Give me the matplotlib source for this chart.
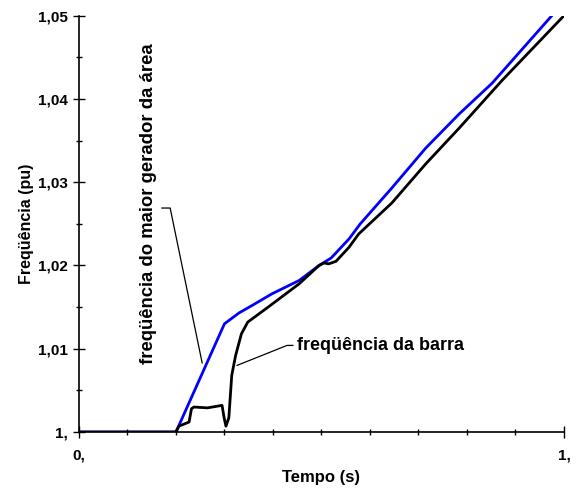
import matplotlib
matplotlib.use('Agg')
import matplotlib.pyplot as plt
from matplotlib.ticker import MultipleLocator

plt.rcParams['font.family'] = ['Liberation Sans', 'DejaVu Sans']
plt.rcParams['font.weight'] = 'bold'
plt.rcParams['font.size'] = 11

# blue: frequencia do maior gerador da area
gen_t = [0, 0.2, 0.30, 0.33, 0.357, 0.398, 0.454, 0.495, 0.52, 0.557, 0.58,
         0.645, 0.715, 0.784, 0.852, 0.975]
gen_f = [1.0, 1.0, 1.0130, 1.0143, 1.0152, 1.0166, 1.0182, 1.0200, 1.0209, 1.0232, 1.0250,
         1.0293, 1.0341, 1.0382, 1.0419, 1.05]

# black: frequencia da barra
bus_t = [0, 0.2, 0.206, 0.227, 0.232, 0.237, 0.265, 0.295, 0.299, 0.303, 0.309,
         0.315, 0.323, 0.335, 0.348, 0.39, 0.454, 0.495, 0.505, 0.515, 0.53,
         0.557, 0.577, 0.645, 0.715, 0.784, 0.872, 1.0]
bus_f = [1.0, 1.0, 1.0007, 1.0012, 1.0028, 1.0030, 1.0029, 1.0032, 1.0018, 1.0007, 1.0017,
         1.0068, 1.0092, 1.0118, 1.0132, 1.0150, 1.0178, 1.0200, 1.0203, 1.0202, 1.0205,
         1.0222, 1.0238, 1.0275, 1.0322, 1.0365, 1.0422, 1.05]

yticks = [1.0, 1.01, 1.02, 1.03, 1.04, 1.05]
ylabels = ['1,', '1,01', '1,02', '1,03', '1,04', '1,05']
xticks = [0, 1]
xlabels = ['0,', '1,']

fig = plt.figure(figsize=(5.79, 4.98), dpi=100)
ax = fig.add_axes([0.1364, 0.1325, 0.8376, 0.836])

ax.plot(gen_t, gen_f, color='#0000ff', lw=2.0, solid_joinstyle='round')
ax.plot(bus_t, bus_f, color='black', lw=2.0, solid_joinstyle='round')

ax.set_xlim(0, 1)
ax.set_ylim(1.0, 1.05)
ax.set_xticks(xticks)
ax.set_xticklabels(xlabels)
ax.set_yticks(yticks)
ax.set_yticklabels(ylabels)
ax.xaxis.set_minor_locator(MultipleLocator(0.1))
ax.yaxis.set_minor_locator(MultipleLocator(0.005))
ax.tick_params(axis='both', which='major', direction='inout', length=8, width=1, labelsize=11)
ax.tick_params(axis='both', which='minor', direction='inout', length=5, width=1)
ax.tick_params(axis='x', which='major', pad=8)
ax.tick_params(axis='y', which='major', pad=4)
for lab in ax.get_xticklabels() + ax.get_yticklabels():
    lab.set_fontweight('bold')

ax.spines['top'].set_visible(False)
ax.spines['right'].set_visible(False)
ax.spines['left'].set_linewidth(1.2)
ax.spines['bottom'].set_linewidth(1.2)

ax.set_xlabel('Tempo (s)', fontsize=12, fontweight='bold', labelpad=5)
ax.set_ylabel('Freqüência (pu)', fontsize=11.5, fontweight='bold', labelpad=3)

# annotations
ax.text(0.144, 1.0274, 'freqüência do maior gerador da área', rotation=90,
        ha='center', va='center', fontsize=13.3, fontweight='bold')
ax.plot([0.171, 0.188, 0.254], [1.0269, 1.0269, 1.0083], color='black', lw=0.9)

ax.text(0.449, 1.0104, 'freqüência da barra', ha='left', va='center',
        fontsize=13, fontweight='bold')
ax.plot([0.441, 0.429, 0.326], [1.0104, 1.0104, 1.0080], color='black', lw=0.9)

fig.savefig('out.png', dpi=100)
